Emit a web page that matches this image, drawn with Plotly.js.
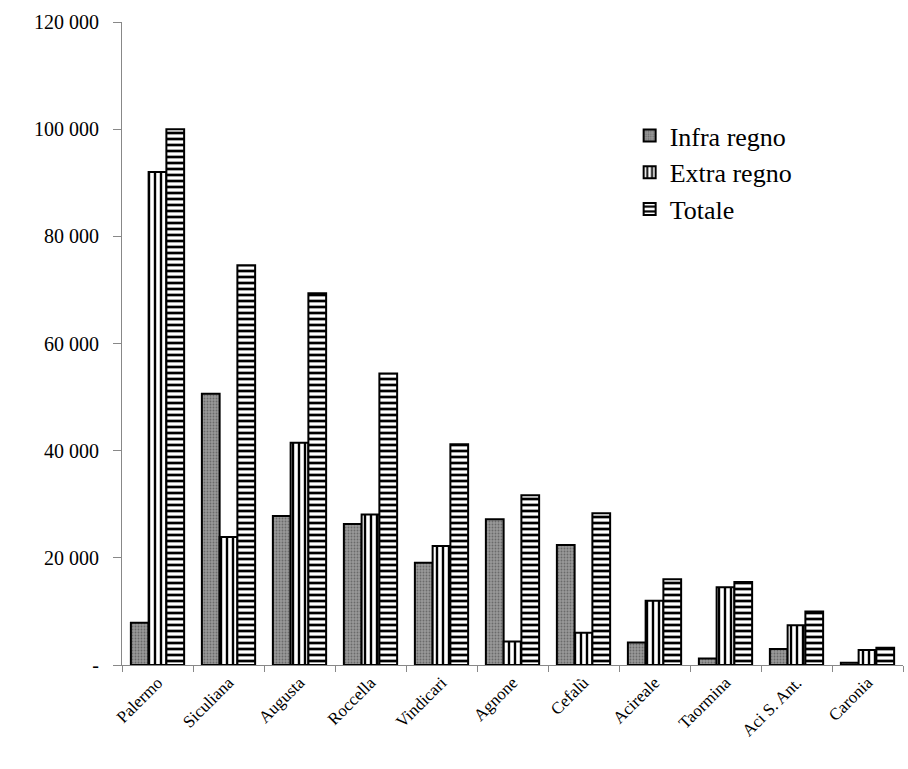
<!DOCTYPE html>
<html>
<head>
<meta charset="utf-8">
<script src="https://cdn.plot.ly/plotly-3.0.1.min.js"></script>
<style>body{margin:0;background:#fff}</style>
</head>
<body>
<div id="chart" style="width:908px;height:769px"></div>
<script>
var ports = ['Palermo', 'Siculiana', 'Augusta', 'Roccella', 'Vindicari', 'Agnone', 'Cefalù', 'Acireale', 'Taormina', 'Aci S. Ant.', 'Caronia'];
var infra = [7900, 50600, 27800, 26300, 19100, 27200, 22400, 4200, 1200, 3000, 400];
var extra = [92000, 23900, 41500, 28100, 22200, 4400, 6000, 12000, 14500, 7400, 2800];
var totale = [100000, 74600, 69400, 54400, 41200, 31700, 28300, 16000, 15500, 10000, 3200];
var yTicks = [0, 20000, 40000, 60000, 80000, 100000, 120000];
var yLabels = ['-', '20 000', '40 000', '60 000', '80 000', '100 000', '120 000'];

var line = {color: '#000', width: 2};
var data = [
    {x: ports, y: infra, name: 'Infra regno', type: 'bar',
     marker: {color: '#8c8c8c', line: line, pattern: {shape: '.', fgcolor: '#6a6a6a', bgcolor: '#999', size: 3, solidity: 0.3}}},
    {x: ports, y: extra, name: 'Extra regno', type: 'bar',
     marker: {color: '#fff', line: line, pattern: {shape: '|', fgcolor: '#000', bgcolor: '#fff', size: 6, solidity: 0.4}}},
    {x: ports, y: totale, name: 'Totale', type: 'bar',
     marker: {color: '#fff', line: line, pattern: {shape: '-', fgcolor: '#000', bgcolor: '#fff', size: 6, solidity: 0.45}}}
];

var layout = {
    width: 908, height: 769,
    margin: {l: 122, r: 5, t: 22, b: 104},
    font: {family: 'Liberation Serif', size: 20, color: '#000'},
    barmode: 'group', bargap: 0.25, bargroupgap: 0,
    plot_bgcolor: '#fff', paper_bgcolor: '#fff',
    xaxis: {tickangle: -45, tickson: 'boundaries', ticks: 'outside', ticklen: 6,
            showline: true, linecolor: '#888', tickcolor: '#888',
            tickfont: {size: 17}, showgrid: false},
    yaxis: {range: [0, 120000], tickvals: yTicks, ticktext: yLabels,
            ticks: 'outside', ticklen: 8, showline: true, linecolor: '#888', tickcolor: '#888',
            showgrid: false, zeroline: false, ticklabelstandoff: 10},
    legend: {x: 0.65, y: 0.86, xanchor: 'left', yanchor: 'top', font: {size: 26},
             bgcolor: 'rgba(0,0,0,0)', tracegroupgap: 0},
    showlegend: true
};

Plotly.newPlot('chart', data, layout, {displayModeBar: false});
</script>
</body>
</html>
